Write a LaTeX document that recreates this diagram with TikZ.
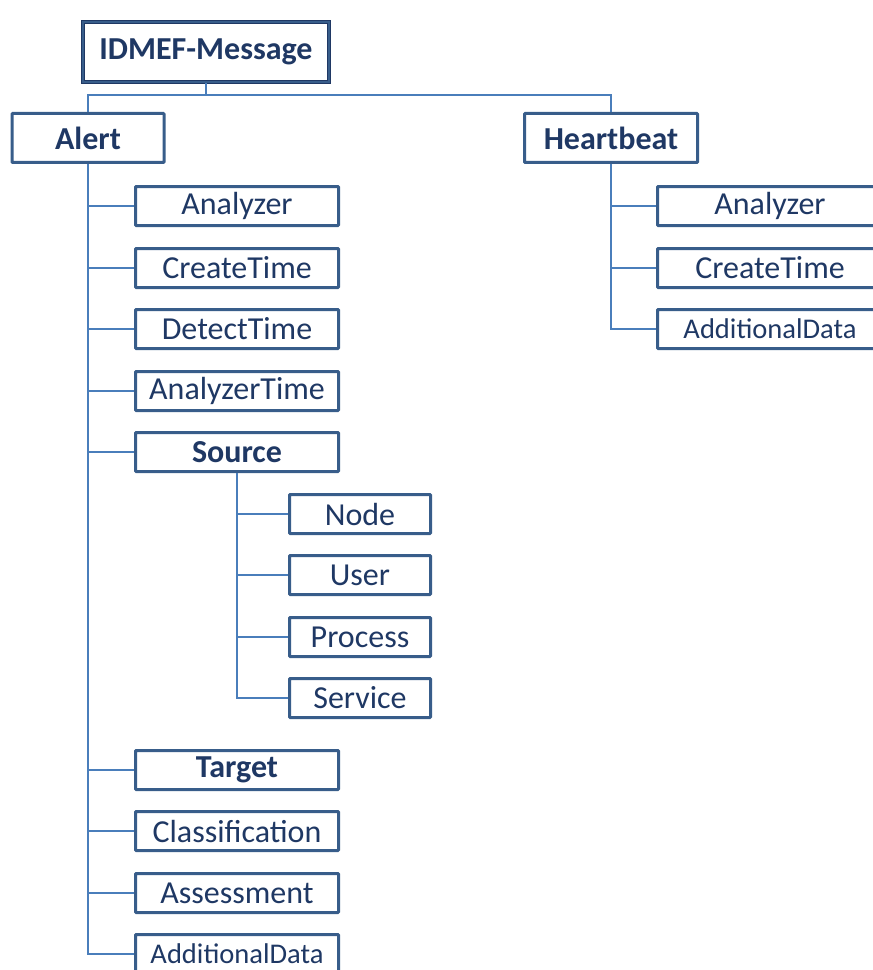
\documentclass[tikz,border=0pt]{standalone}
\usepackage{fontspec}
\setmainfont{Carlito}
\definecolor{txtnavy}{HTML}{1F3864}
\definecolor{boxblue}{HTML}{385D8A}
\definecolor{linkblue}{HTML}{4A7EBB}
\tikzset{
  box/.style={draw=boxblue, line width=2.25pt, rounded corners=0.6pt, fill=white, text=txtnavy, inner sep=2pt, font=\fontsize{24}{28}\selectfont},
  head/.style={font=\bfseries\fontsize{24}{28}\selectfont},
  kid/.style={box, minimum width=152.25pt, minimum height=29.25pt},
  skid/.style={box, minimum width=105.75pt, minimum height=29.25pt},
  hkid/.style={box, minimum width=168.75pt, minimum height=29.25pt},
  small/.style={font=\fontsize{21.4}{25}\selectfont},
  link/.style={draw=linkblue, line width=1.1pt}
}
\begin{document}
\begin{tikzpicture}[x=0.75pt, y=-0.75pt]
\useasboundingbox (0,0) rectangle (872,970);
% top
\node[box, head, draw=txtnavy, double=boxblue, double distance=1.5pt, line width=0.8pt, rounded corners=0pt, minimum width=184pt, minimum height=45.5pt] (MSG) at (206,52) {IDMEF-Message};
\node[box, head, minimum width=114pt, minimum height=36.75pt] (AL) at (88,138) {Alert};
\node[box, head, minimum width=129.75pt, minimum height=36.75pt] (HB) at (611,138) {Heartbeat};
% alert children
\node[kid] (AL1) at (237,206) {Analyzer};
\node[kid] (AL2) at (237,268) {CreateTime};
\node[kid] (AL3) at (237,329) {DetectTime};
\node[kid] (AL4) at (237,391) {AnalyzerTime};
\node[kid, head] (AL5) at (237,452) {Source};
\node[kid, head] (AL6) at (237,770) {Target};
\node[kid] (AL7) at (237,831) {Classification};
\node[kid] (AL8) at (237,893) {Assessment};
\node[kid, small] (AL9) at (237,954) {AdditionalData};
% source children
\node[skid] (SR1) at (360,514) {Node};
\node[skid] (SR2) at (360,575) {User};
\node[skid] (SR3) at (360,637) {Process};
\node[skid] (SR4) at (360,698) {Service};
% heartbeat children
\node[hkid] (HB1) at (770,206) {Analyzer};
\node[hkid] (HB2) at (770,268) {CreateTime};
\node[hkid, small] (HB3) at (770,329) {AdditionalData};
% links
\draw[link] (MSG.south) -- ++(0,12) -| (AL.north);
\draw[link] (MSG.south) -- ++(0,12) -| (HB.north);
\foreach \k in {1,...,9}
  \draw[link] (AL.south) |- (AL\k.west);
\foreach \k in {1,...,4}
  \draw[link] (AL5.south) |- (SR\k.west);
\foreach \k in {1,...,3}
  \draw[link] (HB.south) |- (HB\k.west);
\end{tikzpicture}
\end{document}
